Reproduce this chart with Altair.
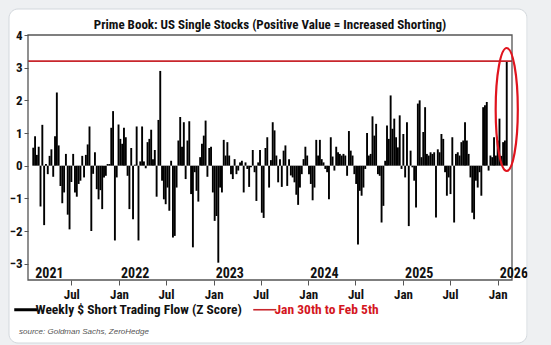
import altair as alt
import pandas as pd

FONT = "'Liberation Sans Narrow', 'Roboto Condensed', 'DejaVu Sans Condensed', 'Arial Narrow', sans-serif"

title_text = "Prime Book: US Single Stocks (Positive Value = Increased Shorting)"
series_name = "Weekly $ Short Trading Flow (Z Score)"
latest_name = "Jan 30th to Feb 5th"
source_text = "source: Goldman Sachs, ZeroHedge"

first_week = "2021-02-04"
last_week = "2026-02-05"

z_scores = [
    0.55, 0.9, 0.33, 0.58, -1.25, 1.25, -1.82, 0.05, -0.26, 0.3,
    0.5, -0.34, 0.9, 2.24, 0.62, -0.62, -1.15, -0.82, 0.36, -1.5,
    -1.95, -0.5, 0.36, -0.82, -0.95, -0.56, -0.46, 0.3, -0.36, 0.33,
    0.65, 1.2, -2.0, -0.25, 0.41, -0.72, -1.03, -0.75, -1.33, -0.36,
    -0.31, 0.05, 0.05, 1.16, 1.67, -2.29, -0.36, 1.26, 0.82, 0.67,
    1.16, 0.87, -0.31, -1.33, 0.54, -1.64, 0.03, 1.2, -2.29, 0.13,
    1.2, 0.13, -0.08, 0.72, 0.82, 1.1, 0.2, 0.48, -0.95, 1.4,
    2.9, -0.46, -1.03, -1.18, -0.67, -1.38, 0.15, -2.2, -2.15, -0.67,
    0.77, 1.49, 0.58, 1.33, -0.41, 0.77, 1.36, -0.87, -2.5, -0.2,
    -0.77, -1.1, 0.26, 0.67, 0.92, 1.38, -0.34, 0.54, 0.58, -0.82,
    -1.69, -1.54, -2.97, -0.67, -0.82, 0.79, 0.31, 0.72, 0.31, -0.26,
    -0.41, 0.2, -0.26, -0.15, 0.1, 0.15, -0.82, 0.1, -0.1, -0.65,
    -0.05, 0.48, -0.2, -1.08, 0.1, 0.48, -1.44, -1.6, 0.54, 0.87,
    -0.67, 0.17, 1.33, 1.08, 0.31, -0.51, 0.2, -0.65, 0.46, 0.62,
    -0.62, 0.2, -0.3, -0.36, -0.51, -0.89, -1.2, -0.67, -0.26, 0.2,
    0.58, 0.31, -0.26, -0.56, -1.06, -0.67, 0.79, 0.31, 0.79, 0.2,
    0.1, -0.1, -0.2, -1.03, 0.87, 0.28, -0.15, 0.58, 0.41, 0.36,
    0.31, 0.36, 0.31, -0.31, 1.06, 0.46, 0.31, -0.26, -0.56, -2.41,
    -0.77, -0.92, -0.67, -0.1, 1.0, 0.31, 0.36, 1.51, 0.92, 1.28,
    -0.26, -0.31, -1.74, -1.23, 0.15, 1.23, 0.82, 2.15, 1.13, 1.44,
    0.87, 0.56, 1.54, -0.1, 0.97, -0.36, 1.33, -1.85, 0.46, -0.05,
    -0.46, -1.28, 1.9, 2.0, 0.26, 1.03, 1.79, 0.36, 0.31, 0.41,
    0.36, 0.41, -1.59, 0.5, 0.41, 0.97, 0.82, -0.2, -0.92, -0.36,
    -0.87, 0.87, -1.74, 0.36, 0.41, 0.31, 0.72, 0.77, 1.33, 0.77,
    0.36, -0.36, -1.44, -1.64, -0.46, -0.67, -0.2, -0.92, 1.79, 1.85,
    1.95, -0.15, 0.31, 0.26, 0.87, 0.31, 0.77, 1.44, 0.3, 0.72,
    0.77, 3.2,
]

year_labels = ["2021", "2022", "2023", "2024", "2025", "2026"]
year_label_dates = ["2021-02-04", "2022-01-01", "2023-01-01", "2024-01-01", "2025-01-01", "2026-01-01"]
month_ticks = ["2021-07-01", "2022-01-01", "2022-07-01", "2023-01-01", "2023-07-01",
               "2024-01-01", "2024-07-01", "2025-01-01", "2025-07-01", "2026-01-01"]
y_ticks = [-3, -2, -1, 0, 1, 2, 3, 4]
y_domain = [-3.5, 4]
x_domain = ["2021-02-03", "2026-02-06"]


def ms(d):
    return int(pd.Timestamp(d, tz="UTC").value // 10**6)


weeks = pd.date_range(first_week, last_week, freq="7D")
df = pd.DataFrame({"week": weeks.strftime("%Y-%m-%d"), "z": z_scores, "series": series_name})
latest_df = pd.DataFrame({"week": [last_week], "z": [z_scores[-1]], "series": [latest_name]})
years_df = pd.DataFrame({"date": year_label_dates, "label": year_labels})
one = pd.DataFrame({"k": [0]})

W, H = 484, 245
RED = "#c8262c"
RED_TEXT = "#d4161e"
INK = "#111111"
BG = "#eef0f2"

x_scale = alt.Scale(type="utc", domain=[ms(d) for d in x_domain])
y_scale = alt.Scale(domain=y_domain, nice=False, zero=False)
color_scale = alt.Scale(domain=[series_name, latest_name], range=["#000000", RED])

x_axis = alt.Axis(
    values=[ms(d) for d in month_ticks],
    labelExpr="utcFormat(datum.value, '%b')",
    tickSize=5, tickColor="#555555", labelPadding=3,
    labelFont=FONT, labelFontSize=13, labelFontWeight="bold", labelColor=INK,
    domain=False, grid=False, title=None, labelOverlap=False, labelFlush=False, zindex=2,
)
y_axis = alt.Axis(
    values=y_ticks, tickSize=4, tickColor="#555555", labelPadding=2,
    labelFont=FONT, labelFontSize=13, labelFontWeight="bold", labelColor=INK,
    domain=False, grid=False, title=None, zindex=2, labelOverlap=False, labelFlush=False,
    labelBound=False,
)

legend = alt.Legend(
    orient="none", legendX=-9, legendY=268, direction="horizontal", columns=2,
    gridAlign="none", padding=0,
    symbolType="stroke", symbolSize=529,
    symbolStrokeWidth=alt.ExprRef(expr=f"datum.value === '{latest_name}' ? 1.6 : 3"),
    symbolStrokeColor=alt.ExprRef(expr=f"datum.value === '{latest_name}' ? '{RED}' : '#000000'"),
    labelColor=alt.ExprRef(expr=f"datum.value === '{latest_name}' ? '{RED_TEXT}' : '{INK}'"),
    labelFont=FONT, labelFontSize=13.5, labelFontWeight="bold", labelLimit=500,
    labelOffset=3, columnPadding=7,
    title=source_text, titleOrient="bottom", titleAnchor="start",
    titleFont="'Liberation Sans', Roboto, sans-serif", titleFontSize=8,
    titleFontStyle="italic", titleFontWeight="normal", titleColor="#555555", titlePadding=12,
    zindex=2,
)

X = alt.X("week:T", scale=x_scale, axis=x_axis)

card = alt.Chart(one).mark_rect(
    fill="#ffffff", stroke="#d3d8dd", strokeWidth=1, cornerRadius=9
).encode(x=alt.value(-19), x2=alt.value(499), y=alt.value(-26), y2=alt.value(308))

frame = alt.Chart(one).mark_rect(
    fill=None, stroke="#555555", strokeWidth=1.3
).encode(x=alt.value(0), x2=alt.value(W), y=alt.value(0), y2=alt.value(H))

bars = alt.Chart(df).mark_bar(width=1.9, clip=True).encode(
    x=X,
    y=alt.Y("z:Q", scale=y_scale, axis=y_axis),
    color=alt.Color("series:N", scale=color_scale, legend=legend),
)

rule = alt.Chart(latest_df).mark_rule(strokeWidth=1.6).encode(
    y=alt.Y("z:Q", axis=y_axis),
    color=alt.Color("series:N"),
)

ellipse_path = "M -0.18 0 A 0.18 1 0 1 0 0.18 0 A 0.18 1 0 1 0 -0.18 0 Z"
ellipse = alt.Chart(latest_df).transform_calculate(
    mid="datum.z / 2 + 0.12"
).mark_point(
    shape=ellipse_path, size=15129, filled=False, stroke="#e0141e", strokeWidth=2.2, opacity=1, clip=False
).encode(x=X, y=alt.Y("mid:Q", axis=y_axis))

years = alt.Chart(years_df).mark_text(
    align="left", baseline="alphabetic", font=FONT, fontSize=14, fontWeight="bold",
    color=INK, dx=2,
).encode(
    x=alt.X("date:T", axis=x_axis),
    y=alt.YDatum(-3.44, axis=y_axis),
    text="label:N",
)

edge = alt.Chart(one).mark_rect(fill=BG).encode(
    x=alt.value(499.5), x2=alt.value(540), y=alt.value(-26), y2=alt.value(310)
)

chart = alt.layer(card, bars, rule, frame, ellipse, years, edge).properties(
    width=W, height=H,
    title=alt.TitleParams(
        title_text, anchor="middle", frame="group", font=FONT, fontSize=13, fontWeight="bold",
        color=INK, offset=-36, baseline="bottom",
    ),
    padding={"left": 28, "top": 35, "right": 39, "bottom": 65},
    autosize=alt.AutoSizeParams(type="none"),
    background=BG,
).configure_view(stroke=None).configure_axis(labelOverlap=False)

chart.save("out.html", embed_options={"renderer": "svg", "actions": False})
